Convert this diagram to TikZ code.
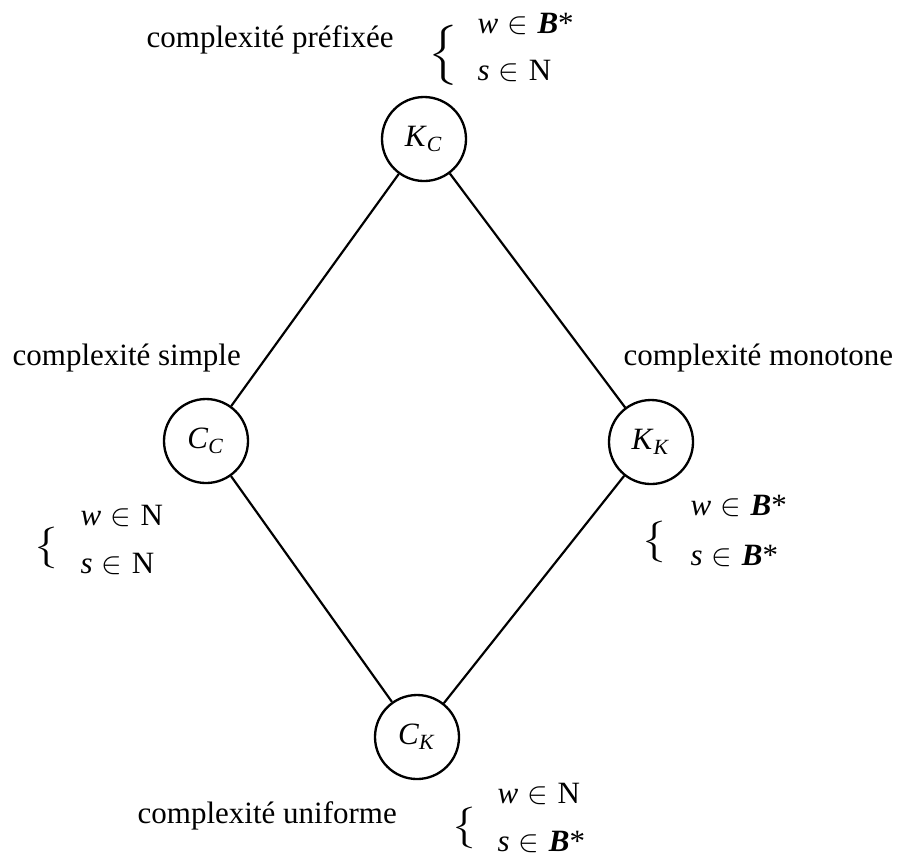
\documentclass[tikz,border=0pt]{standalone}
\usepackage{fontspec}
\setmainfont{Liberation Serif}
\begin{document}
\begin{tikzpicture}[x=0.32258pt,y=-0.32258pt,
  state/.style={circle,draw,line width=0.75pt,minimum size=27.1pt,inner sep=0pt},
  lab/.style={anchor=base west,inner sep=0pt},
  brace/.style={anchor=center,inner sep=0pt},
  conn/.style={line width=0.7pt}]
\useasboundingbox (0,0) rectangle (899,852);
\newcommand{\el}{\hspace{0.3em}$\in$\hspace{0.3em}}
\newcommand{\Bs}{\textbf{\textit{B}}*}
\newcommand{\smallbr}{\scalebox{1.45}[1.12]{$\big\{$}}
\newcommand{\largebr}{\scalebox{1.45}[1.08]{$\Big\{$}}
% states
\node[state] (KC) at (424,139) {\textit{K}\textsubscript{\textit{C}}};
\node[state] (CC) at (206,441) {\textit{C}\textsubscript{\textit{C}}};
\node[state] (KK) at (651,442) {\textit{K}\textsubscript{\textit{K}}};
\node[state] (CK) at (417,737) {\textit{C}\textsubscript{\textit{K}}};
% connectors
\draw[conn] (KC) -- (CC);
\draw[conn] (KC) -- (KK);
\draw[conn] (CC) -- (CK);
\draw[conn] (KK) -- (CK);
% labels
\node[lab] (lKC) at (146,47) {complexité préfixée};
\node[lab] (lCC) at (12,365) {complexité simple};
\node[lab] (lKK) at (623,365) {complexité monotone};
\node[lab] (lCK) at (137,823) {complexité uniforme};
% top block
\node[brace] (bKC) at (443,55) {\largebr};
\node[lab] (wKC) at (477,33) {\textit{w}\el\Bs};
\node[lab] (sKC) at (477,80) {\textit{s}\el N};
% left block
\node[brace] (bCC) at (47,548) {\smallbr};
\node[lab] (wCC) at (80,525) {\textit{w}\el N};
\node[lab] (sCC) at (80,573) {\textit{s}\el N};
% right block
\node[brace] (bKK) at (655,542) {\smallbr};
\node[lab] (wKK) at (690,515) {\textit{w}\el\Bs};
\node[lab] (sKK) at (690,565) {\textit{s}\el\Bs};
% bottom block
\node[brace] (bCK) at (465,828) {\smallbr};
\node[lab] (wCK) at (497,803) {\textit{w}\el N};
\node[lab] (sCK) at (497,851) {\textit{s}\el\Bs};
\end{tikzpicture}
\end{document}
